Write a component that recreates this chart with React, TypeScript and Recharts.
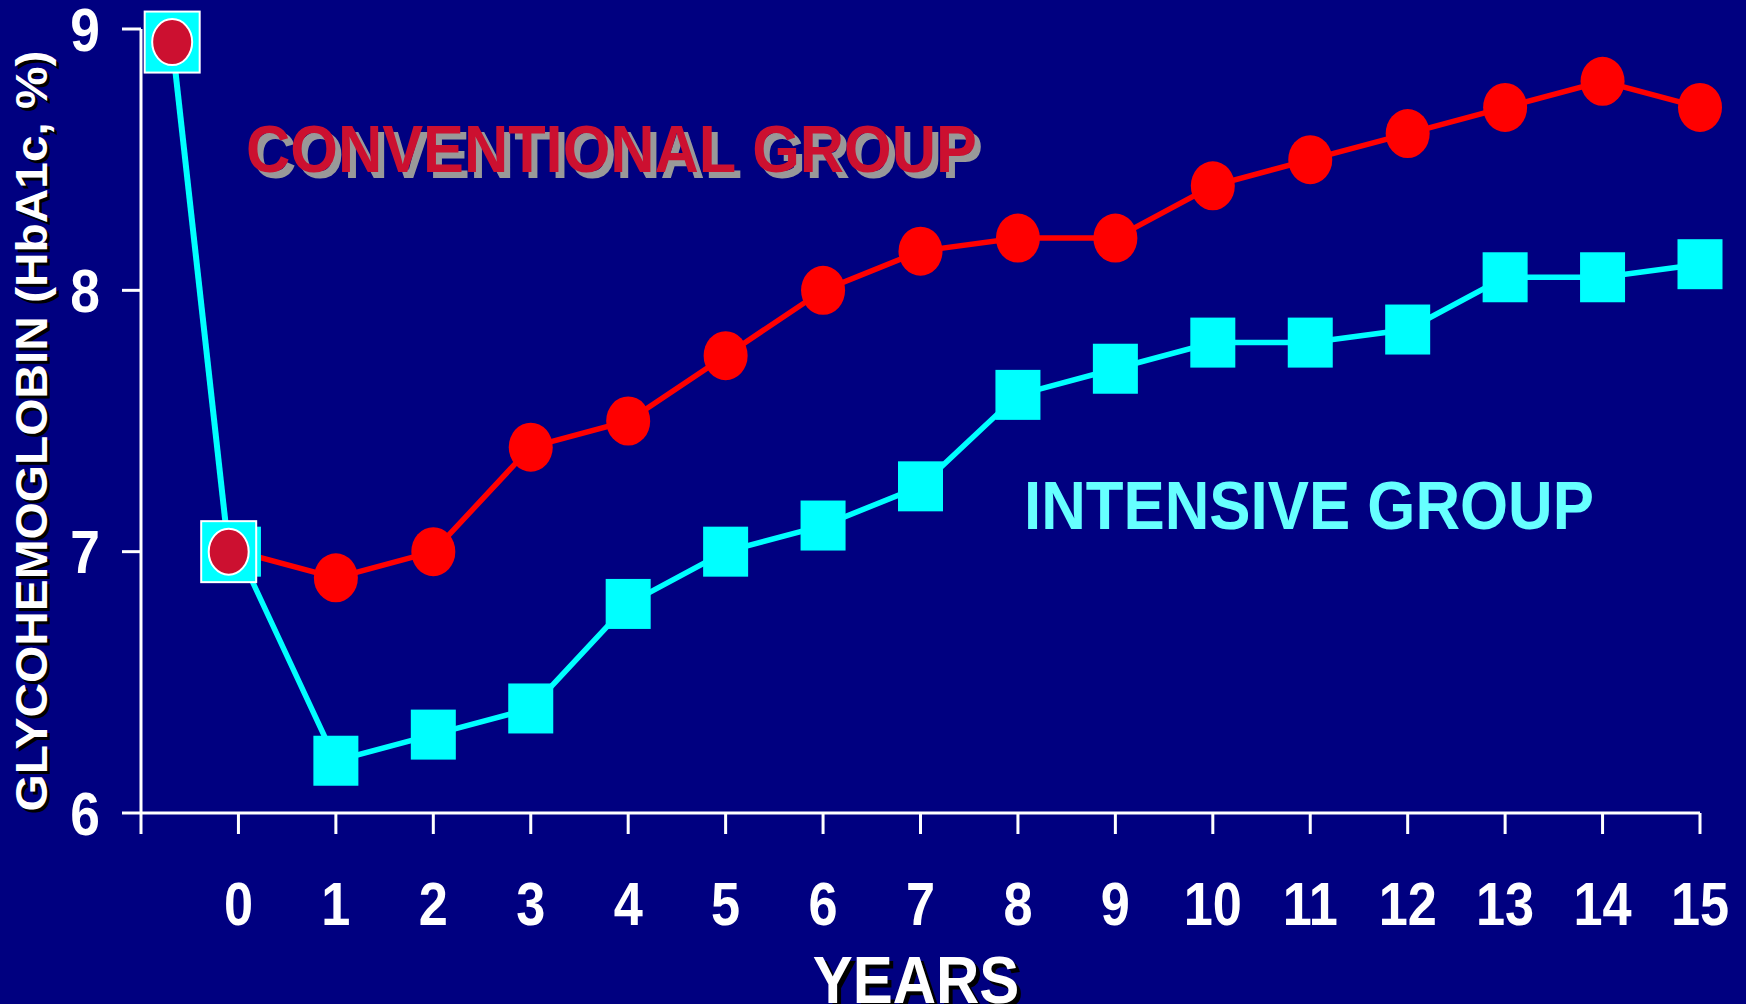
import React from 'react';
import { LineChart, Line, XAxis, YAxis, Customized } from 'recharts';

// HbA1c (%) by year of follow-up
const years = [0, 1, 2, 3, 4, 5, 6, 7, 8, 9, 10, 11, 12, 13, 14, 15];
const conventional = [7.0, 6.9, 7.0, 7.4, 7.5, 7.75, 8.0, 8.15, 8.2, 8.2, 8.4, 8.5, 8.6, 8.7, 8.8, 8.7];
const intensive = [7.0, 6.2, 6.3, 6.4, 6.8, 7.0, 7.1, 7.25, 7.6, 7.7, 7.8, 7.8, 7.85, 8.05, 8.05, 8.1];

// entry value and value at start of follow-up, shared by both groups
const baselineYears = [-0.68, -0.1];
const baselineValues = [8.95, 7.0];

const xTicks = [-1, 0, 1, 2, 3, 4, 5, 6, 7, 8, 9, 10, 11, 12, 13, 14, 15];
const yTicks = [6, 7, 8, 9];

const conventionalData = years.map((year, i) => ({ year, value: conventional[i] }));
const intensiveData = years.map((year, i) => ({ year, value: intensive[i] }));
const baselineData = baselineYears.map((year, i) => ({ year, value: baselineValues[i] }));

const NAVY = '#000080';
const RED = '#FF0000';
const CRIMSON = '#CC1030';
const CYAN = '#00FFFF';
const FONT = '"Liberation Sans", Arial, Helvetica, sans-serif';
const STRETCH = 1.1;

type TextProps = {
  x: number;
  y: number;
  size: number;
  fill: string;
  anchor?: 'start' | 'middle' | 'end';
  sx?: number;
  sy?: number;
  rotate?: boolean;
  shadow?: string;
  dx?: number;
  dy?: number;
  children: React.ReactNode;
};

function SlideText({ x, y, size, fill, anchor = 'start', sx = 1, sy = STRETCH, rotate = false, shadow, dx = 0, dy = 0, children }: TextProps) {
  const body = (tx: number, ty: number, color: string) => (
    <g transform={`translate(${tx},${ty})${rotate ? ' rotate(-90)' : ''} scale(${sx},${sy})`}>
      <text x={0} y={0} fill={color} fontFamily={FONT} fontWeight="bold" fontSize={size} textAnchor={anchor}>
        {children}
      </text>
    </g>
  );
  return (
    <g>
      {shadow ? body(x + dx, y + dy, shadow) : null}
      {body(x, y, fill)}
    </g>
  );
}

const XTick = (props: any) => {
  const { x, y, payload } = props;
  if (payload.value < 0) return <g />;
  return (
    <SlideText x={x} y={y + 89} size={55} sx={0.95} fill="#FFFFFF" anchor="middle">
      {payload.value}
    </SlideText>
  );
};

const YTick = (props: any) => {
  const { x, y, payload } = props;
  return (
    <SlideText x={x - 20} y={y + 21.5} size={55} sx={0.97} fill="#FFFFFF" anchor="end">
      {payload.value}
    </SlideText>
  );
};

const CircleDot = (props: any) => {
  const { cx, cy, index } = props;
  return <ellipse key={`conv-${index}`} cx={cx} cy={cy} rx={22} ry={24.5} fill={RED} />;
};

const SquareDot = (props: any) => {
  const { cx, cy, index } = props;
  return <rect key={`int-${index}`} x={cx - 22.5} y={cy - 25} width={45} height={50} fill={CYAN} />;
};

const BaselineDot = (props: any) => {
  const { cx, cy, index } = props;
  return (
    <g key={`base-${index}`}>
      <rect x={cx - 27.5} y={cy - 30.5} width={55} height={61} fill={CYAN} stroke="#FFFFFF" strokeWidth={2} />
      <ellipse cx={cx} cy={cy} rx={20} ry={23} fill={CRIMSON} stroke="#FFFFFF" strokeWidth={2} />
    </g>
  );
};

const Annotations = () => (
  <g>
    <SlideText x={246} y={172} size={61.3} sy={1.08} fill={CRIMSON} shadow="#999999" dx={6} dy={6}>
      CONVENTIONAL GROUP
    </SlideText>
    <SlideText x={1024} y={529} size={61.8} fill="#66FFFF">
      INTENSIVE GROUP
    </SlideText>
    <SlideText x={916} y={1003} size={60} fill="#FFFFFF" anchor="middle" shadow="#000000" dx={4} dy={4}>
      YEARS
    </SlideText>
    <SlideText x={47} y={431} size={43.5} sx={STRETCH} sy={1} rotate fill="#FFFFFF" anchor="middle" shadow="#000000" dx={3} dy={3}>
      GLYCOHEMOGLOBIN (HbA1c, %)
    </SlideText>
  </g>
);

export default function App() {
  return (
    <div style={{ position: 'fixed', left: 0, top: 0, width: 1746, height: 1004, background: NAVY, overflow: 'hidden' }}>
      <LineChart width={1746} height={1004} margin={{ top: 29, right: 46, bottom: 0, left: 0 }}>
        <XAxis
          type="number"
          dataKey="year"
          domain={[-1, 15]}
          ticks={xTicks}
          interval={0}
          height={191}
          tickSize={21}
          axisLine={{ stroke: '#FFFFFF', strokeWidth: 3 }}
          tickLine={{ stroke: '#FFFFFF', strokeWidth: 3 }}
          tick={<XTick />}
        />
        <YAxis
          type="number"
          domain={[6, 9]}
          ticks={yTicks}
          interval={0}
          width={141}
          tickSize={19}
          axisLine={{ stroke: '#FFFFFF', strokeWidth: 3 }}
          tickLine={{ stroke: '#FFFFFF', strokeWidth: 3 }}
          tick={<YTick />}
        />
        <Line
          data={conventionalData}
          dataKey="value"
          type="linear"
          stroke={RED}
          strokeWidth={5.5}
          dot={CircleDot}
          activeDot={false}
          isAnimationActive={false}
        />
        <Line
          data={intensiveData}
          dataKey="value"
          type="linear"
          stroke={CYAN}
          strokeWidth={5.5}
          dot={SquareDot}
          activeDot={false}
          isAnimationActive={false}
        />
        <Line
          data={baselineData}
          dataKey="value"
          type="linear"
          stroke={CYAN}
          strokeWidth={6}
          dot={BaselineDot}
          activeDot={false}
          isAnimationActive={false}
        />
        <Customized component={Annotations} />
      </LineChart>
    </div>
  );
}
